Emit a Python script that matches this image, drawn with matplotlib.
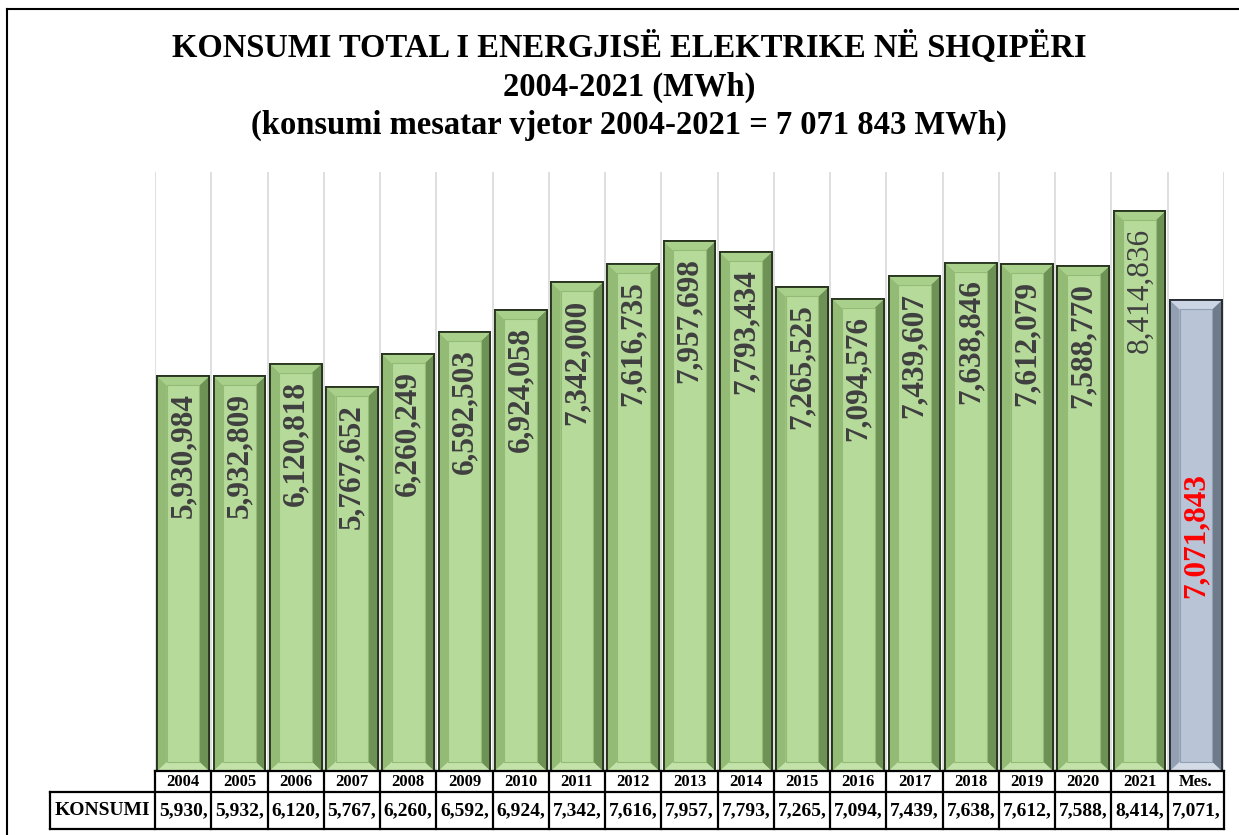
import matplotlib
matplotlib.use('Agg')
import matplotlib.pyplot as plt
import matplotlib.transforms as mtransforms
from matplotlib.patches import Polygon, Rectangle
from matplotlib.lines import Line2D

plt.rcParams['font.family'] = ['Liberation Serif', 'DejaVu Serif']

years = ['2004', '2005', '2006', '2007', '2008', '2009', '2010', '2011', '2012',
         '2013', '2014', '2015', '2016', '2017', '2018', '2019', '2020', '2021', 'Mes.']
konsumi = [5930984, 5932809, 6120818, 5767652, 6260249, 6592503, 6924058, 7342000,
           7616735, 7957698, 7793434, 7265525, 7094576, 7439607, 7638846, 7612079,
           7588770, 8414836, 7071843]
title_lines = ['KONSUMI TOTAL I ENERGJISË ELEKTRIKE NË SHQIPËRI',
               '2004-2021 (MWh)',
               '(konsumi mesatar vjetor 2004-2021 = 7 071 843 MWh)']

W, H = 1239, 835
fig = plt.figure(figsize=(W / 100, H / 100), dpi=100)
ax = fig.add_axes([155 / W, 1 - 771 / H, (1224 - 155) / W, (771 - 172) / H])
ymax = 9000000
ax.set_xlim(-0.5, len(years) - 0.5)
ax.set_ylim(0, ymax)
ax.axis('off')

# vertical grid between categories
for k in range(len(years) + 1):
    ax.axvline(k - 0.5, color='#d9d9d9', lw=1.2, zorder=0)

green = dict(face='#b6da9a', left='#93bb75', right='#6e9256', top='#a9d08b',
             bottom='#c3e2a9', edge='#26331d')
grey = dict(face='#b9c5d7', left='#939fb2', right='#6f7a8b', top='#cbd5e3',
            bottom='#d3dbe7', edge='#262b33')

bw = 0.92
xs = list(range(len(years)))
cols = [green] * (len(years) - 1) + [grey]
bars = ax.bar(xs, konsumi, width=bw, color=[c['face'] for c in cols],
              edgecolor=[c['edge'] for c in cols], linewidth=1.3, zorder=2)

# bevel look
px_per_unit = (771 - 172) / ymax
dx = 0.17
dy = 9 / px_per_unit
for b, c in zip(bars, cols):
    x0 = b.get_x()
    x1 = x0 + b.get_width()
    v = b.get_height()
    polys = [
        ([(x0, 0), (x0, v), (x0 + dx, v - dy), (x0 + dx, dy)], c['left']),
        ([(x1, 0), (x1, v), (x1 - dx, v - dy), (x1 - dx, dy)], c['right']),
        ([(x0, v), (x1, v), (x1 - dx, v - dy), (x0 + dx, v - dy)], c['top']),
        ([(x0, 0), (x1, 0), (x1 - dx, dy), (x0 + dx, dy)], c['bottom']),
    ]
    for pts, col in polys:
        ax.add_patch(Polygon(pts, closed=True, facecolor=col, edgecolor='none', zorder=3))
    ax.add_patch(Rectangle((x0 + dx, dy), x1 - x0 - 2 * dx, v - 2 * dy,
                           facecolor=c['face'], edgecolor=c['left'], lw=0.8, zorder=3))
    ax.add_patch(Rectangle((x0, 0), x1 - x0, v, facecolor='none',
                           edgecolor=c['edge'], lw=1.3, zorder=4))

# value labels
for i, v in enumerate(konsumi):
    txt = f'{v:,}'
    if i == len(konsumi) - 1:
        ax.text(i, v / 2, txt, rotation=90, ha='center', va='center',
                fontsize=22.5, fontweight='bold', color='#ff0000', zorder=5)
    else:
        weight = 'normal' if years[i] == '2021' else 'bold'
        ax.annotate(txt, (i, v), xytext=(0, -17), textcoords='offset pixels',
                    rotation=90, ha='center', va='top', fontsize=22.5,
                    fontweight=weight, color='#3f3f3f', zorder=5)

# data table under the chart
tr = mtransforms.blended_transform_factory(ax.transData, fig.transFigure)
y_top = 1 - 771 / H
y_mid = 1 - 792 / H
y_bot = 1 - 829 / H
x_left = -0.5 - (155 - 50) / ((1224 - 155) / len(years))
x_right = len(years) - 0.5
lk = dict(color='black', lw=1.6, transform=tr, clip_on=False, zorder=6)
ax.add_line(Line2D([-0.5, x_right], [y_top, y_top], **lk))
ax.add_line(Line2D([x_left, x_right], [y_mid, y_mid], **lk))
ax.add_line(Line2D([x_left, x_right], [y_bot, y_bot], **lk))
ax.add_line(Line2D([x_left, x_left], [y_mid, y_bot], **lk))
for k in range(len(years) + 1):
    ax.add_line(Line2D([k - 0.5, k - 0.5], [y_top, y_bot], **lk))
for i, (yr, v) in enumerate(zip(years, konsumi)):
    ax.text(i, (y_top + y_mid) / 2, yr, transform=tr, ha='center', va='center',
            fontsize=12, fontweight='bold', clip_on=False)
    ax.text(i, (y_mid + y_bot) / 2, f'{v:,}'[:6], transform=tr, ha='center',
            va='center', fontsize=14, fontweight='bold', clip_on=False)
ax.text((x_left - 0.5) / 2, (y_mid + y_bot) / 2, 'KONSUMI', transform=tr,
        ha='center', va='center', fontsize=14, fontweight='bold', clip_on=False)

# title
for line, yp in zip(title_lines, [47, 87, 125]):
    fig.text(629 / W, 1 - yp / H, line, ha='center', va='center',
             fontsize=23.5, fontweight='bold')

# outer frame
fig.add_artist(Line2D([7 / W, 7 / W], [0, 1 - 9 / H], color='black', lw=1.5,
                      transform=fig.transFigure))
fig.add_artist(Line2D([7 / W, 1], [1 - 9 / H, 1 - 9 / H], color='black', lw=1.5,
                      transform=fig.transFigure))

fig.savefig('out.png', dpi=100)
